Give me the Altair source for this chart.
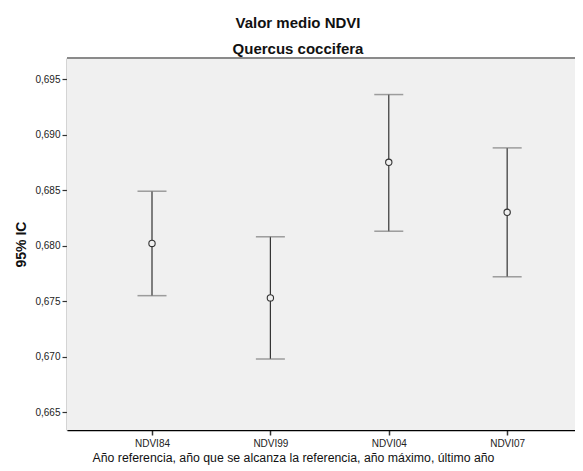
import altair as alt
import pandas as pd

categories = ["NDVI84", "NDVI99", "NDVI04", "NDVI07"]
means = [0.6802, 0.6753, 0.6875, 0.6830]
lowers = [0.6755, 0.6698, 0.6813, 0.6772]
uppers = [0.6849, 0.6808, 0.6936, 0.6888]
y_ticks = [0.665, 0.670, 0.675, 0.680, 0.685, 0.690, 0.695]

idx = list(range(len(categories)))
df = pd.DataFrame({"i": idx, "cat": categories, "mean": means, "lo": lowers, "hi": uppers})
caps = pd.DataFrame({"i": idx * 2, "v": lowers + uppers})

W, H = 508, 372
FONT = "Liberation Sans"

label_expr = "[" + ",".join("'%s'" % c for c in categories) + "][datum.value]"
xscale = alt.Scale(domain=[-0.718, 3.573], nice=False, zero=False)
yscale = alt.Scale(domain=[0.66341, 0.69689], nice=False, zero=False)

xaxis = alt.Axis(title="Año referencia, año que se alcanza la referencia, año máximo, último año",
                 values=idx, labelExpr=label_expr,
                 labelAngle=0, labelFont=FONT, labelFontSize=10, labelColor="#222",
                 titleFont=FONT, titleFontSize=12.3, titleFontWeight="normal", titleColor="#111",
                 titleX=226, titleAnchor="middle",
                 domainColor="#000", domainWidth=1.5, tickColor="#333", tickSize=5, tickWidth=1.5,
                 labelPadding=3, titlePadding=3, grid=False, labelFlush=False)
yaxis = alt.Axis(title="95% IC", values=y_ticks,
                 labelExpr="replace(format(datum.value, '.3f'), '.', ',')",
                 labelFont=FONT, labelFontSize=10, labelColor="#222",
                 titleFont=FONT, titleFontSize=14, titleFontWeight="bold", titleColor="#111",
                 domainColor="#555", domainWidth=1.5, tickColor="#333", tickSize=5, tickWidth=1.2,
                 labelPadding=2, titlePadding=6, grid=False, labelFlush=False)

bg = alt.Chart(df).mark_rect(color="#f0f0f0").encode(
    x=alt.value(0), x2=alt.value(W), y=alt.value(0), y2=alt.value(H)
)

bars = alt.Chart(df).mark_rule(color="#333", strokeWidth=1.2).encode(
    x=alt.X("i:Q", scale=xscale, axis=xaxis),
    y=alt.Y("lo:Q", scale=yscale, axis=yaxis),
    y2="hi:Q",
)

capmarks = alt.Chart(caps).mark_tick(orient="horizontal", size=29, thickness=1.5, color="#777").encode(
    x=alt.X("i:Q", scale=xscale),
    y=alt.Y("v:Q", scale=yscale),
)

pts = alt.Chart(df).mark_point(shape="circle", size=40, filled=True, fill="#f0f0f0",
                               stroke="#333", strokeWidth=1.1, opacity=1).encode(
    x=alt.X("i:Q", scale=xscale),
    y=alt.Y("mean:Q", scale=yscale),
)

topline = alt.Chart(df).mark_rule(color="#8a8a8a", strokeWidth=2).encode(
    x=alt.value(0), x2=alt.value(W), y=alt.value(0)
)

chart = alt.layer(bg, topline, bars, capmarks, pts).properties(
    width=W, height=H,
    autosize=alt.AutoSizeParams(type="none"),
    padding={"left": 59, "top": 50, "right": 0, "bottom": 40},
    title=alt.TitleParams(
        text="Valor medio NDVI", subtitle="Quercus coccifera",
        font=FONT, fontSize=15, fontWeight="bold", color="#111",
        subtitleFont=FONT, subtitleFontSize=15, subtitleFontWeight="bold", subtitleColor="#111",
        subtitlePadding=11, offset=0, anchor="middle", dx=-23,
    ),
).configure_view(stroke=None).configure(background="white")

chart.save("out.html", embed_options={"renderer": "svg", "actions": False})
